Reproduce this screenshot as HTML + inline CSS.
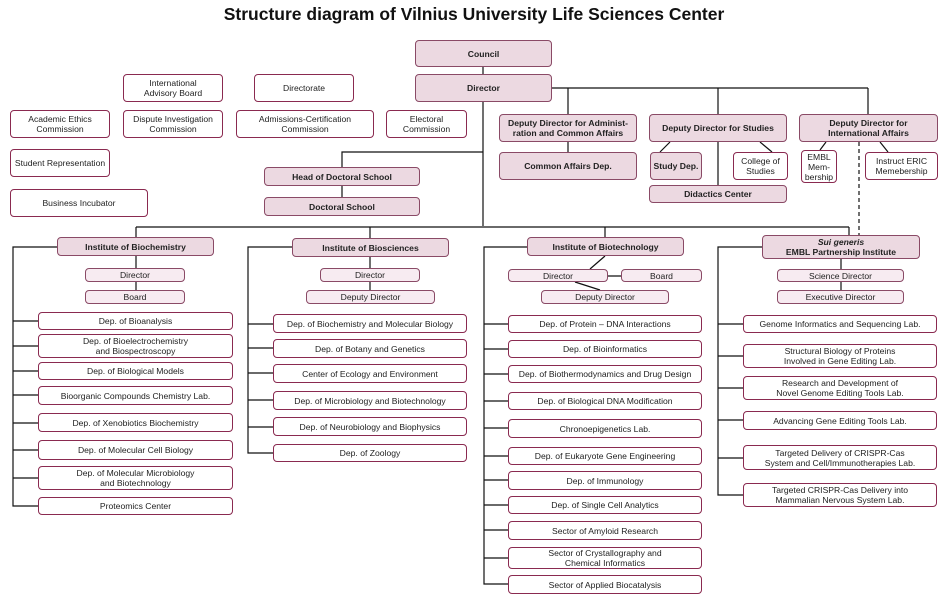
<!DOCTYPE html>
<html><head><meta charset="utf-8"><style>
body{margin:0;background:#fff;}
#c{position:relative;width:948px;height:602px;overflow:hidden;font-family:"Liberation Sans",sans-serif;}
.t{position:absolute;left:0;width:948px;top:4px;text-align:center;font-weight:bold;font-size:17.5px;letter-spacing:0;color:#111;}
.b{position:absolute;box-sizing:border-box;border:1px solid #8a2a50;border-radius:4px;background:#fff;display:flex;align-items:center;justify-content:center;text-align:center;font-size:8.6px;line-height:10px;color:#222;}
.f{background:#ecd9e1;font-weight:bold;border-color:#8a4a66;}
.l{background:#f7ebf1;border-color:#8a4a66;}
svg{position:absolute;left:0;top:0;}
</style></head><body><div id="c">
<svg width="948" height="602" stroke="#111" stroke-width="1.2" fill="none">
<path d="M483 67V226M552 88H868M568 88V114M718 88V114M868 88V114M568 142V152M718 142V185M660 152L670 142M760 142L772 152M826 142L820 150M880 142L888 152"/>
<path d="M342 167V152H483M342 186V197"/>
<path d="M136 227H849M136 227V237M370 227V238M605 227V237M849 227V235"/>
<path d="M859 142V236" stroke-dasharray="4,3"/>
<path d="M136 256V268M136 282V290M370 257V268M370 282V290"/>
<path d="M605 256L590 269M608 276H621M575 282L600 290M841 259V269M841 282V290"/>
<path d="M57 247H13V506H38M13 321H38M13 346H38M13 371H38M13 395H38M13 423H38M13 450H38M13 478H38"/>
<path d="M292 247H248V453H273M248 324H273M248 348H273M248 373H273M248 400H273M248 427H273"/>
<path d="M527 247H484V584H508M484 324H508M484 349H508M484 374H508M484 401H508M484 428H508M484 456H508M484 480H508M484 505H508M484 530H508M484 558H508"/>
<path d="M762 247H718V495H743M718 324H743M718 356H743M718 388H743M718 420H743M718 458H743"/>
</svg>
<div class="t">Structure diagram of Vilnius University Life Sciences Center</div>
<div class="b f" style="left:415px;top:40px;width:137px;height:27px">Council</div>
<div class="b f" style="left:415px;top:74px;width:137px;height:28px">Director</div>
<div class="b" style="left:123px;top:74px;width:100px;height:28px">International<br>Advisory Board</div>
<div class="b" style="left:254px;top:74px;width:100px;height:28px">Directorate</div>
<div class="b" style="left:10px;top:110px;width:100px;height:28px">Academic Ethics<br>Commission</div>
<div class="b" style="left:123px;top:110px;width:100px;height:28px">Dispute Investigation<br>Commission</div>
<div class="b" style="left:236px;top:110px;width:138px;height:28px">Admissions-Certification<br>Commission</div>
<div class="b" style="left:386px;top:110px;width:81px;height:28px">Electoral<br>Commission</div>
<div class="b" style="left:10px;top:149px;width:100px;height:28px">Student Representation</div>
<div class="b" style="left:10px;top:189px;width:138px;height:28px">Business Incubator</div>
<div class="b f" style="left:264px;top:167px;width:156px;height:19px">Head of Doctoral School</div>
<div class="b f" style="left:264px;top:197px;width:156px;height:19px">Doctoral School</div>
<div class="b f" style="left:499px;top:114px;width:138px;height:28px">Deputy Director for Administ-<br>ration and Common Affairs</div>
<div class="b f" style="left:499px;top:152px;width:138px;height:28px">Common Affairs Dep.</div>
<div class="b f" style="left:649px;top:114px;width:138px;height:28px">Deputy Director for Studies</div>
<div class="b f" style="left:650px;top:152px;width:52px;height:28px">Study Dep.</div>
<div class="b" style="left:733px;top:152px;width:55px;height:28px">College of<br>Studies</div>
<div class="b f" style="left:649px;top:185px;width:138px;height:18px">Didactics Center</div>
<div class="b f" style="left:799px;top:114px;width:139px;height:28px">Deputy Director for<br>International Affairs</div>
<div class="b" style="left:801px;top:150px;width:36px;height:33px">EMBL<br>Mem-<br>bership</div>
<div class="b" style="left:865px;top:152px;width:73px;height:28px">Instruct ERIC<br>Memebership</div>
<div class="b f" style="left:57px;top:237px;width:157px;height:19px">Institute of Biochemistry</div>
<div class="b l" style="left:85px;top:268px;width:100px;height:14px">Director</div>
<div class="b l" style="left:85px;top:290px;width:100px;height:14px">Board</div>
<div class="b" style="left:38px;top:312px;width:195px;height:18px">Dep. of Bioanalysis</div>
<div class="b" style="left:38px;top:334px;width:195px;height:24px">Dep. of Bioelectrochemistry<br>and Biospectroscopy</div>
<div class="b" style="left:38px;top:362px;width:195px;height:18px">Dep. of Biological Models</div>
<div class="b" style="left:38px;top:386px;width:195px;height:19px">Bioorganic Compounds Chemistry Lab.</div>
<div class="b" style="left:38px;top:413px;width:195px;height:19px">Dep. of Xenobiotics Biochemistry</div>
<div class="b" style="left:38px;top:440px;width:195px;height:20px">Dep. of Molecular Cell Biology</div>
<div class="b" style="left:38px;top:466px;width:195px;height:24px">Dep. of Molecular Microbiology<br>and Biotechnology</div>
<div class="b" style="left:38px;top:497px;width:195px;height:18px">Proteomics Center</div>
<div class="b f" style="left:292px;top:238px;width:157px;height:19px">Institute of Biosciences</div>
<div class="b l" style="left:320px;top:268px;width:100px;height:14px">Director</div>
<div class="b l" style="left:306px;top:290px;width:129px;height:14px">Deputy Director</div>
<div class="b" style="left:273px;top:314px;width:194px;height:19px">Dep. of Biochemistry and Molecular Biology</div>
<div class="b" style="left:273px;top:339px;width:194px;height:19px">Dep. of Botany and Genetics</div>
<div class="b" style="left:273px;top:364px;width:194px;height:19px">Center of Ecology and Environment</div>
<div class="b" style="left:273px;top:391px;width:194px;height:19px">Dep. of Microbiology and Biotechnology</div>
<div class="b" style="left:273px;top:417px;width:194px;height:19px">Dep. of Neurobiology and Biophysics</div>
<div class="b" style="left:273px;top:444px;width:194px;height:18px">Dep. of Zoology</div>
<div class="b f" style="left:527px;top:237px;width:157px;height:19px">Institute of Biotechnology</div>
<div class="b l" style="left:508px;top:269px;width:100px;height:13px">Director</div>
<div class="b l" style="left:621px;top:269px;width:81px;height:13px">Board</div>
<div class="b l" style="left:541px;top:290px;width:128px;height:14px">Deputy Director</div>
<div class="b" style="left:508px;top:315px;width:194px;height:18px">Dep. of Protein – DNA Interactions</div>
<div class="b" style="left:508px;top:340px;width:194px;height:18px">Dep. of Bioinformatics</div>
<div class="b" style="left:508px;top:365px;width:194px;height:18px">Dep. of Biothermodynamics and Drug Design</div>
<div class="b" style="left:508px;top:392px;width:194px;height:18px">Dep. of Biological DNA Modification</div>
<div class="b" style="left:508px;top:419px;width:194px;height:19px">Chronoepigenetics Lab.</div>
<div class="b" style="left:508px;top:447px;width:194px;height:18px">Dep. of Eukaryote Gene Engineering</div>
<div class="b" style="left:508px;top:471px;width:194px;height:19px">Dep. of Immunology</div>
<div class="b" style="left:508px;top:496px;width:194px;height:18px">Dep. of Single Cell Analytics</div>
<div class="b" style="left:508px;top:521px;width:194px;height:19px">Sector of Amyloid Research</div>
<div class="b" style="left:508px;top:547px;width:194px;height:22px">Sector of Crystallography and<br>Chemical Informatics</div>
<div class="b" style="left:508px;top:575px;width:194px;height:19px">Sector of Applied Biocatalysis</div>
<div class="b f" style="left:762px;top:235px;width:158px;height:24px;font-weight:bold"><span><i>Sui generis</i><br>EMBL Partnership Institute</span></div>
<div class="b l" style="left:777px;top:269px;width:127px;height:13px">Science Director</div>
<div class="b l" style="left:777px;top:290px;width:127px;height:14px">Executive Director</div>
<div class="b" style="left:743px;top:315px;width:194px;height:18px">Genome Informatics and Sequencing Lab.</div>
<div class="b" style="left:743px;top:344px;width:194px;height:24px">Structural Biology of Proteins<br>Involved in Gene Editing Lab.</div>
<div class="b" style="left:743px;top:376px;width:194px;height:24px">Research and Development of<br>Novel Genome Editing Tools Lab.</div>
<div class="b" style="left:743px;top:411px;width:194px;height:19px">Advancing Gene Editing Tools Lab.</div>
<div class="b" style="left:743px;top:445px;width:194px;height:25px">Targeted Delivery of CRISPR-Cas<br>System and Cell/Immunotherapies Lab.</div>
<div class="b" style="left:743px;top:483px;width:194px;height:24px">Targeted CRISPR-Cas Delivery into<br>Mammalian Nervous System Lab.</div>
</div></body></html>
